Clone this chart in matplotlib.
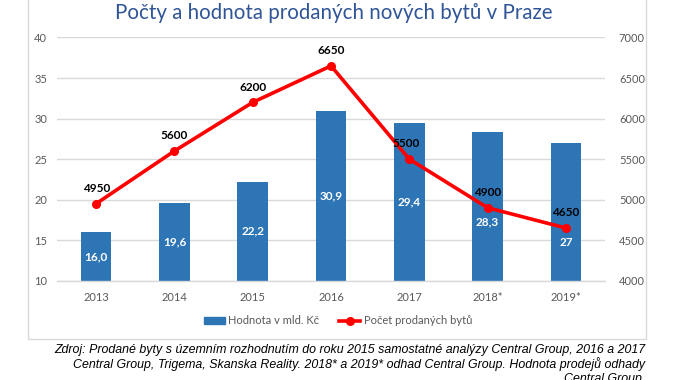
import matplotlib
matplotlib.use("Agg")
import matplotlib.pyplot as plt
from matplotlib.patches import Rectangle
from matplotlib.lines import Line2D
from matplotlib.patches import Patch

years = ["2013", "2014", "2015", "2016", "2017", "2018*", "2019*"]
hodnota = [16.0, 19.6, 22.2, 30.9, 29.4, 28.3, 27.0]
hodnota_labels = ["16,0", "19,6", "22,2", "30,9", "29,4", "28,3", "27"]
pocet = [4950, 5600, 6200, 6650, 5500, 4900, 4650]

title = "Počty a hodnota prodaných nových bytů v Praze"
legend_bar = "Hodnota v mld. Kč"
legend_line = "Počet prodaných bytů"
source_lines = [
    "Zdroj: Prodané byty s územním rozhodnutím do roku 2015 samostatné analýzy Central Group, 2016 a 2017",
    "Central Group, Trigema, Skanska Reality. 2018* a 2019* odhad Central Group. Hodnota prodejů odhady",
    "Central Group.",
]

# layout helpers (label placement inside bars, as fraction of bar height)
bar_label_frac = [0.5, 0.5, 0.5, 0.5, 0.5, 0.40, 0.28]

BLUE = "#2E75B6"
RED = "#FF0000"
GRAY = "#595959"
GRID = "#D9D9D9"
FONT = "Lato"

W, H = 674, 380
fig = plt.figure(figsize=(W / 100, H / 100), dpi=100)

# chart border
fig.add_artist(Rectangle((27.7 / W, 1 - 339 / H), (646 - 27.7) / W, 339 / H + 0.05,
                         transform=fig.transFigure, fill=False, edgecolor=GRID, linewidth=1.0))

ax = fig.add_axes([57 / W, 1 - 280.7 / H, (605 - 57) / W, (280.7 - 37.5) / H])
ax2 = ax.twinx()

x = list(range(len(years)))
ax.bar(x, [v - 10 for v in hodnota], bottom=10, width=0.39, color=BLUE, zorder=2)
ax.set_xlim(-0.5, len(years) - 0.5)
ax.set_ylim(10, 40)
ax.set_yticks(range(10, 41, 5))
ax.grid(axis="y", color=GRID, linewidth=1.0, zorder=0)
ax.set_axisbelow(True)
for s in ["top", "left", "right"]:
    ax.spines[s].set_visible(False)
ax.spines["bottom"].set_color(GRID)
ax.spines["bottom"].set_linewidth(1.0)
ax.tick_params(axis="both", length=0, colors=GRAY, labelsize=8)
ax.tick_params(axis="y", pad=7)
ax.tick_params(axis="x", pad=8)
ax.set_xticks(x)
ax.set_xticklabels(years, fontfamily=FONT)
for t in ax.get_yticklabels():
    t.set_fontfamily(FONT)

for i, (v, lab, fr) in enumerate(zip(hodnota, hodnota_labels, bar_label_frac)):
    ax.text(i, 10 + (v - 10) * fr, lab, ha="center", va="center", color="white",
            fontsize=8.5, fontweight="bold", fontfamily=FONT, zorder=5)

ax2.plot(x, pocet, color=RED, linewidth=2.6, marker="o", markersize=5.5, zorder=4)
ax2.set_ylim(4000, 7000)
ax2.set_yticks(range(4000, 7001, 500))
for s in ["top", "left", "right", "bottom"]:
    ax2.spines[s].set_visible(False)
ax2.tick_params(axis="y", length=0, colors=GRAY, labelsize=8, pad=10)
for t in ax2.get_yticklabels():
    t.set_fontfamily(FONT)

for i, v in enumerate(pocet):
    dx = -2 if i == 4 else 0
    ax2.annotate(str(v), (i, v), xytext=(dx, 11), textcoords="offset points",
                 ha="center", va="center", fontsize=8.5, fontweight="bold",
                 fontfamily=FONT, color="black", zorder=6)

ax.set_zorder(1)
ax2.set_zorder(2)
ax.patch.set_visible(False)
ax2.patch.set_visible(False)

fig.text(334 / W, 1 - 13 / H, title, ha="center", va="center", color="#2F5597",
         fontsize=14.8, fontfamily=FONT)

handles = [Patch(facecolor=BLUE, edgecolor=BLUE),
           Line2D([0], [0], color=RED, linewidth=2.6, marker="o", markersize=5.5)]
leg = fig.legend(handles, [legend_bar, legend_line], loc="center",
                 bbox_to_anchor=(338 / W, 1 - 321 / H), ncol=2, frameon=False,
                 prop={"family": FONT, "size": 8}, handlelength=1.9, handleheight=0.6,
                 columnspacing=1.8, handletextpad=0.3)
for t in leg.get_texts():
    t.set_color(GRAY)

for k, line in enumerate(source_lines):
    fig.text(645 / W, 1 - (350 + 14.5 * k) / H, line, ha="right", va="center",
             fontsize=8.9, fontstyle="italic", fontfamily="Liberation Sans", color="black")

fig.savefig("out.png", dpi=100)
